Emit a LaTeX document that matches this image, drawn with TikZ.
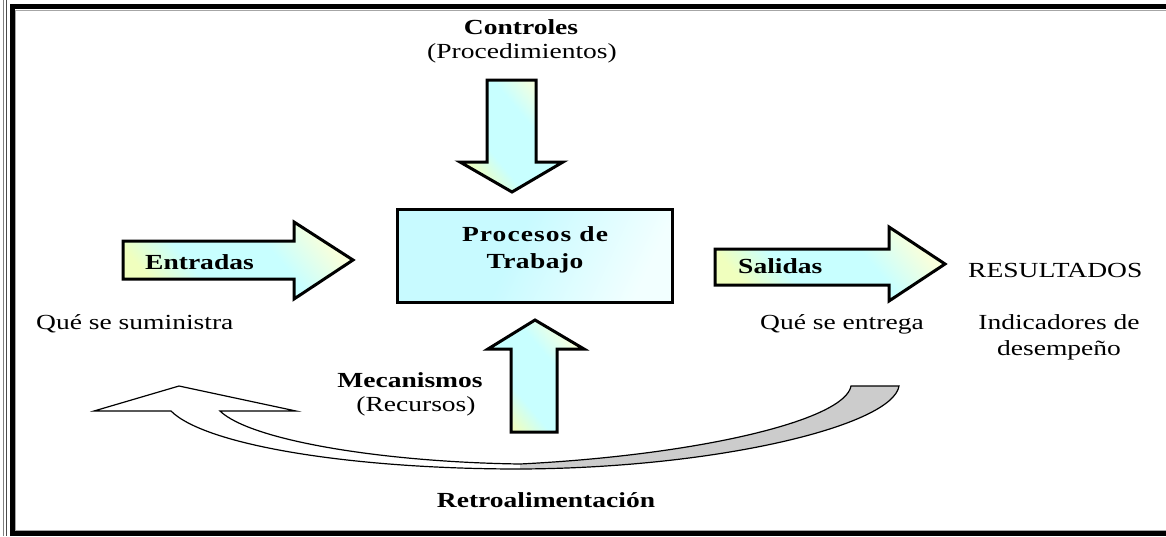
\documentclass[tikz,border=0pt]{standalone}
\usepackage{fontspec}
\setmainfont{Liberation Serif}[FakeStretch=1.28]
\definecolor{cyn}{RGB}{200,255,255}
\definecolor{ylw}{RGB}{240,255,190}
\definecolor{ylw2}{RGB}{248,255,220}
\definecolor{boxc}{RGB}{200,250,255}
\definecolor{boxw}{RGB}{242,255,255}
\definecolor{rgray}{RGB}{204,204,204}
\pgfdeclarehorizontalshading{arrsh}{100bp}{color(0bp)=(ylw); color(25bp)=(ylw); color(38bp)=(cyn); color(60bp)=(cyn); color(75bp)=(ylw2); color(100bp)=(ylw2)}
\pgfdeclarehorizontalshading{boxsh}{100bp}{color(0bp)=(boxc); color(25bp)=(boxc); color(45bp)=(boxc); color(75bp)=(boxw); color(100bp)=(boxw)}
\tikzset{
  blockarrow/.style={draw=black, line width=3pt, line join=miter,
    shading=arrsh, shading angle=40},
  txt/.style={inner sep=0pt, font=\fontsize{21.5}{25}\selectfont, anchor=base},
  btxt/.style={txt, font=\fontsize{21.5}{25}\selectfont\bfseries},
  ribbon/.style={draw=black, line width=1.2pt, line join=miter},
}
\begin{document}
\begin{tikzpicture}[x=1pt, y=-1pt]
\useasboundingbox (0,0) rectangle (1166,536);
% frame
\draw[gray, line width=1pt] (3.5,0) -- (3.5,536);
\draw[gray!60!black, line width=1pt] (6,0) -- (6,536);
\draw[black, line width=5pt] (1166,6) -- (12,6) -- (12,533) -- (1166,533);
\draw[gray!70, line width=1pt] (1166,10) -- (15,10) -- (15,530) -- (1166,530);
% process box
\node[draw=black, line width=3pt, minimum width=275pt, minimum height=93pt,
  shading=boxsh, shading angle=-25, inner sep=0pt]
  (box) at (534.5,255.5) {};
\node[btxt] (p1) at (535,241) {\addfontfeature{LetterSpace=5}Procesos de};
\node[btxt] (p2) at (535,268) {\addfontfeature{LetterSpace=2}Trabajo};
% controls
\node[btxt] (ctl) at (521,34) {Controles};
\node[txt] (proc) at (522,58) {(Procedimientos)};
\path[blockarrow] (487,80) -- (536,80) -- (536,162) -- (563,162)
  -- (512,192) -- (460,162) -- (487,162) -- cycle;
% mechanisms
\path[blockarrow] (511,432) -- (511,349) -- (488,349) -- (535,320)
  -- (584,349) -- (557,349) -- (557,432) -- cycle;
\node[btxt] (mec) at (410,387) {Mecanismos};
\node[txt] (rec) at (416,411) {(Recursos)};
% inputs
\path[blockarrow] (123,241) -- (294,241) -- (294,222) -- (353,260)
  -- (294,299) -- (294,279) -- (123,279) -- cycle;
\node[btxt, anchor=base west] (ent) at (145,269) {Entradas};
\node[txt, anchor=base west] (sum) at (36,329) {Qué se suministra};
% outputs
\path[blockarrow] (715,249) -- (889,249) -- (889,227) -- (945,264)
  -- (889,301) -- (889,285) -- (715,285) -- cycle;
\node[btxt, anchor=base west] (sal) at (738,273) {Salidas};
\node[txt, anchor=base west] (ent2) at (760,329) {Qué se entrega};
\node[txt, anchor=base west] (res) at (968,277) {RESULTADOS};
\node[txt] (ind1) at (1059,329) {Indicadores de};
\node[txt] (ind2) at (1059,355) {desempeño};
% feedback ribbon
\fill[white] (220,411) -- (296,411) -- (179,386) -- (94,411) -- (171,411)
  .. controls (205,445) and (350,469) .. (520,469)
  .. controls (720,468) and (893,425) .. (899,386)
  -- (851,386)
  .. controls (845,420) and (700,455) .. (520,464)
  .. controls (380,462) and (250,440) .. (220,411) -- cycle;
\fill[rgray] (520,469) .. controls (720,468) and (893,425) .. (899,386)
  -- (851,386) .. controls (845,420) and (700,455) .. (520,464) -- cycle;
\draw[ribbon] (220,411) -- (296,411) -- (179,386) -- (94,411) -- (171,411)
  .. controls (205,445) and (350,469) .. (520,469)
  .. controls (720,468) and (893,425) .. (899,386)
  -- (851,386)
  .. controls (845,420) and (700,455) .. (520,464)
  .. controls (380,462) and (250,440) .. (220,411) -- cycle;
\node[btxt] (retro) at (546,507) {Retroalimentación};
\end{tikzpicture}
\end{document}
